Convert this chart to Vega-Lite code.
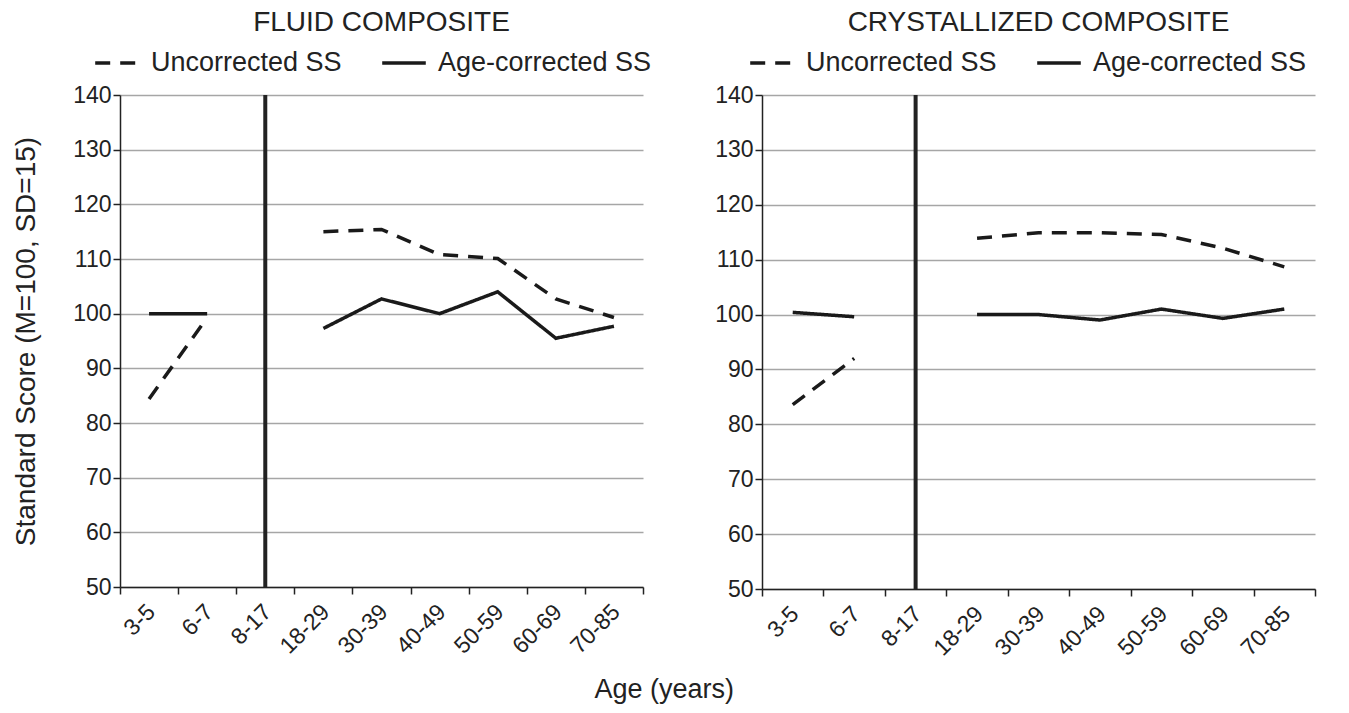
{
  "$schema": "https://vega.github.io/schema/vega-lite/v6.json",
  "background": "white",
  "padding": {"left": 12, "top": 9, "right": 5, "bottom": 5},
  "resolve": {"scale": {"strokeDash": "independent"}, "legend": {"strokeDash": "independent"}},
  "config": {
    "font": "Liberation Sans",
    "view": {"stroke": null},
    "axis": {
      "labelFont": "Liberation Sans", "labelColor": "#222", "labelFontSize": 23,
      "titleFont": "Liberation Sans", "titleFontSize": 28, "titleFontWeight": "normal", "titleColor": "#222",
      "domainColor": "#222", "domainWidth": 1.5, "tickColor": "#222", "tickWidth": 1.5, "tickSize": 7,
      "gridColor": "#a6a6a6", "gridWidth": 1.5
    },
    "legend": {
      "labelFont": "Liberation Sans", "labelFontSize": 27, "labelColor": "#222", "labelLimit": 0,
      "symbolType": "stroke", "symbolSize": 1900, "symbolStrokeWidth": 3.5, "symbolStrokeColor": "#1a1a1a",
      "columnPadding": 33, "labelOffset": 10
    },
    "title": {"font": "Liberation Sans", "fontSize": 28, "fontWeight": "normal", "color": "#222"}
  },
  "title": {"text": "Age (years)", "orient": "bottom", "anchor": "middle", "fontSize": 27, "fontWeight": "normal", "offset": 17},
  "data": {"values": [
    {"panel": "fluid", "age": "3-5", "series": "Uncorrected SS", "group": "child", "value": 84.4},
    {"panel": "fluid", "age": "6-7", "series": "Uncorrected SS", "group": "child", "value": 99.3},
    {"panel": "fluid", "age": "18-29", "series": "Uncorrected SS", "group": "adult", "value": 115.0},
    {"panel": "fluid", "age": "30-39", "series": "Uncorrected SS", "group": "adult", "value": 115.4},
    {"panel": "fluid", "age": "40-49", "series": "Uncorrected SS", "group": "adult", "value": 110.8},
    {"panel": "fluid", "age": "50-59", "series": "Uncorrected SS", "group": "adult", "value": 110.1},
    {"panel": "fluid", "age": "60-69", "series": "Uncorrected SS", "group": "adult", "value": 102.7},
    {"panel": "fluid", "age": "70-85", "series": "Uncorrected SS", "group": "adult", "value": 99.3},
    {"panel": "fluid", "age": "3-5", "series": "Age-corrected SS", "group": "child", "value": 100.0},
    {"panel": "fluid", "age": "6-7", "series": "Age-corrected SS", "group": "child", "value": 100.0},
    {"panel": "fluid", "age": "18-29", "series": "Age-corrected SS", "group": "adult", "value": 97.3},
    {"panel": "fluid", "age": "30-39", "series": "Age-corrected SS", "group": "adult", "value": 102.7},
    {"panel": "fluid", "age": "40-49", "series": "Age-corrected SS", "group": "adult", "value": 100.0},
    {"panel": "fluid", "age": "50-59", "series": "Age-corrected SS", "group": "adult", "value": 104.0},
    {"panel": "fluid", "age": "60-69", "series": "Age-corrected SS", "group": "adult", "value": 95.5},
    {"panel": "fluid", "age": "70-85", "series": "Age-corrected SS", "group": "adult", "value": 97.7},
    {"panel": "cryst", "age": "3-5", "series": "Uncorrected SS", "group": "child", "value": 83.6},
    {"panel": "cryst", "age": "6-7", "series": "Uncorrected SS", "group": "child", "value": 92.0},
    {"panel": "cryst", "age": "18-29", "series": "Uncorrected SS", "group": "adult", "value": 113.9},
    {"panel": "cryst", "age": "30-39", "series": "Uncorrected SS", "group": "adult", "value": 114.9},
    {"panel": "cryst", "age": "40-49", "series": "Uncorrected SS", "group": "adult", "value": 114.9},
    {"panel": "cryst", "age": "50-59", "series": "Uncorrected SS", "group": "adult", "value": 114.6},
    {"panel": "cryst", "age": "60-69", "series": "Uncorrected SS", "group": "adult", "value": 112.1},
    {"panel": "cryst", "age": "70-85", "series": "Uncorrected SS", "group": "adult", "value": 108.7},
    {"panel": "cryst", "age": "3-5", "series": "Age-corrected SS", "group": "child", "value": 100.4},
    {"panel": "cryst", "age": "6-7", "series": "Age-corrected SS", "group": "child", "value": 99.6},
    {"panel": "cryst", "age": "18-29", "series": "Age-corrected SS", "group": "adult", "value": 100.0},
    {"panel": "cryst", "age": "30-39", "series": "Age-corrected SS", "group": "adult", "value": 100.0},
    {"panel": "cryst", "age": "40-49", "series": "Age-corrected SS", "group": "adult", "value": 99.0},
    {"panel": "cryst", "age": "50-59", "series": "Age-corrected SS", "group": "adult", "value": 101.0},
    {"panel": "cryst", "age": "60-69", "series": "Age-corrected SS", "group": "adult", "value": 99.3},
    {"panel": "cryst", "age": "70-85", "series": "Age-corrected SS", "group": "adult", "value": 101.0}
  ]},
  "spacing": 62,
  "hconcat": [
    {
      "width": 523, "height": 492,
      "title": {"text": "FLUID COMPOSITE", "offset": 2},
      "layer": [
        {
          "transform": [{"filter": "datum.panel === 'fluid'"}],
          "mark": {"type": "line", "strokeWidth": 3.5, "color": "#1a1a1a"},
          "encoding": {
            "x": {"field": "age", "type": "ordinal",
              "scale": {"type": "band", "domain": ["3-5", "6-7", "8-17", "18-29", "30-39", "40-49", "50-59", "60-69", "70-85"], "paddingInner": 0, "paddingOuter": 0},
              "axis": {"title": null, "labelAngle": -45, "labelAlign": "right", "labelBaseline": "middle", "tickBand": "extent", "labelPadding": 14, "labelOffset": 2}},
            "y": {"field": "value", "type": "quantitative",
              "scale": {"domain": [50, 140], "nice": false, "zero": false},
              "axis": {"values": [50, 60, 70, 80, 90, 100, 110, 120, 130, 140], "grid": true, "title": "Standard Score (M=100, SD=15)", "titlePadding": 32}},
            "strokeDash": {"field": "series", "type": "nominal",
              "scale": {"domain": ["Uncorrected SS", "Age-corrected SS"], "range": [[15, 10], [1, 0]]},
              "legend": {"title": null, "orient": "none", "direction": "horizontal", "legendX": -27, "legendY": -56}},
            "detail": {"field": "group"}
          }
        },
        {
          "data": {"values": [{"age": "8-17"}]},
          "mark": {"type": "rule", "strokeWidth": 4, "color": "#222"},
          "encoding": {"x": {"field": "age", "type": "ordinal"}}
        }
      ]
    },
    {
      "width": 553, "height": 494,
      "title": {"text": "CRYSTALLIZED COMPOSITE", "offset": 2},
      "layer": [
        {
          "transform": [{"filter": "datum.panel === 'cryst'"}],
          "mark": {"type": "line", "strokeWidth": 3.5, "color": "#1a1a1a"},
          "encoding": {
            "x": {"field": "age", "type": "ordinal",
              "scale": {"type": "band", "domain": ["3-5", "6-7", "8-17", "18-29", "30-39", "40-49", "50-59", "60-69", "70-85"], "paddingInner": 0, "paddingOuter": 0},
              "axis": {"title": null, "labelAngle": -45, "labelAlign": "right", "labelBaseline": "middle", "tickBand": "extent", "labelPadding": 14, "labelOffset": 2}},
            "y": {"field": "value", "type": "quantitative",
              "scale": {"domain": [50, 140], "nice": false, "zero": false},
              "axis": {"values": [50, 60, 70, 80, 90, 100, 110, 120, 130, 140], "grid": true, "title": null}},
            "strokeDash": {"field": "series", "type": "nominal",
              "scale": {"domain": ["Uncorrected SS", "Age-corrected SS"], "range": [[15, 10], [1, 0]]},
              "legend": {"title": null, "orient": "none", "direction": "horizontal", "legendX": -14, "legendY": -56}},
            "detail": {"field": "group"}
          }
        },
        {
          "data": {"values": [{"age": "8-17"}]},
          "mark": {"type": "rule", "strokeWidth": 4, "color": "#222"},
          "encoding": {"x": {"field": "age", "type": "ordinal"}}
        }
      ]
    }
  ]
}
